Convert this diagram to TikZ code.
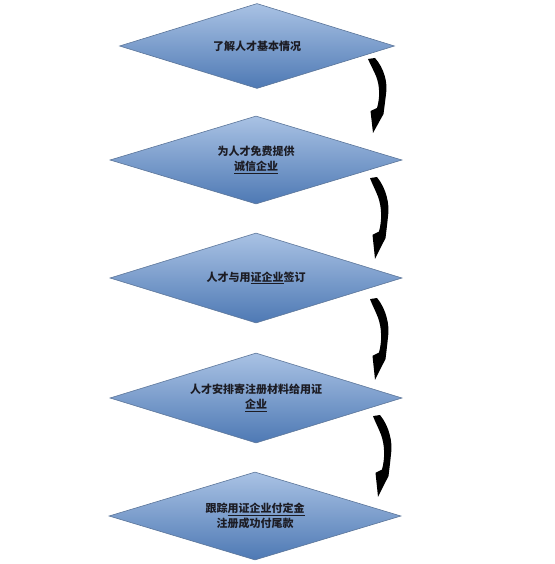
\documentclass[tikz,border=0pt]{standalone}
\usepackage{fontspec}
\newfontfamily\cjk{Noto Sans CJK SC}
\usepackage{xcolor}
\usepackage{tikz}
\usetikzlibrary{shapes,shapes.geometric}
\definecolor{steptop}{HTML}{A9C2E4}
\definecolor{stepbot}{HTML}{4E79B4}
\definecolor{stepline}{HTML}{5B7599}
\definecolor{steptext}{HTML}{1C1C24}
\tikzset{
  stepbox/.style={diamond, shape aspect=3.3, inner sep=0pt, draw=stepline, line width=0.6pt,
    top color=steptop, bottom color=stepbot, minimum width=292pt, minimum height=88pt,
    align=center, text=steptext, font=\cjk\bfseries\fontsize{11}{15}\selectfont},
  bentarrow/.pic={
    \fill[black] (0,1) -- (7,0) .. controls (16,10) and (20,25) .. (18,36)
      .. controls (17,45) and (16,52) .. (15.5,56) -- (5,75) -- (2.5,53) -- (9,50)
      .. controls (12,40) and (12,28) .. (8,18) .. controls (6,13) and (3,8) .. (0,1) -- cycle;
  }
}

\begin{document}
\begin{tikzpicture}[x=1pt, y=-1pt]
        \useasboundingbox (0,0) rectangle (554,564);
        % Steps
        \node[stepbox, minimum width=275pt, minimum height=85pt] (know) at (257,46) {了解人才基本情况};
        \node[stepbox] (offer) at (256,160) {为人才免费提供\\\underline{诚信企业}};
        \node[stepbox, minimum height=90pt] (sign) at (256,278) {人才与用\underline{证企业}签订};
        \node[stepbox, minimum height=90pt] (mail) at (256,398) {人才安排寄注册材料给用证\\\underline{企业}};
        \node[stepbox] (track) at (255,516) {跟踪\underline{用证企业付定金}\\注册成功付尾款};

        % Bent arrows between the steps
        \coordinate (turn1) at (368,58);
        \coordinate (turn2) at (370,177);
        \coordinate (turn3) at (370,298);
        \coordinate (turn4) at (373,415);
        \pic at (turn1) {bentarrow};
        \pic[yscale=1.09] at (turn2) {bentarrow};
        \pic[yscale=1.09] at (turn3) {bentarrow};
        \pic[yscale=1.09] at (turn4) {bentarrow};
      \end{tikzpicture}
\end{document}
